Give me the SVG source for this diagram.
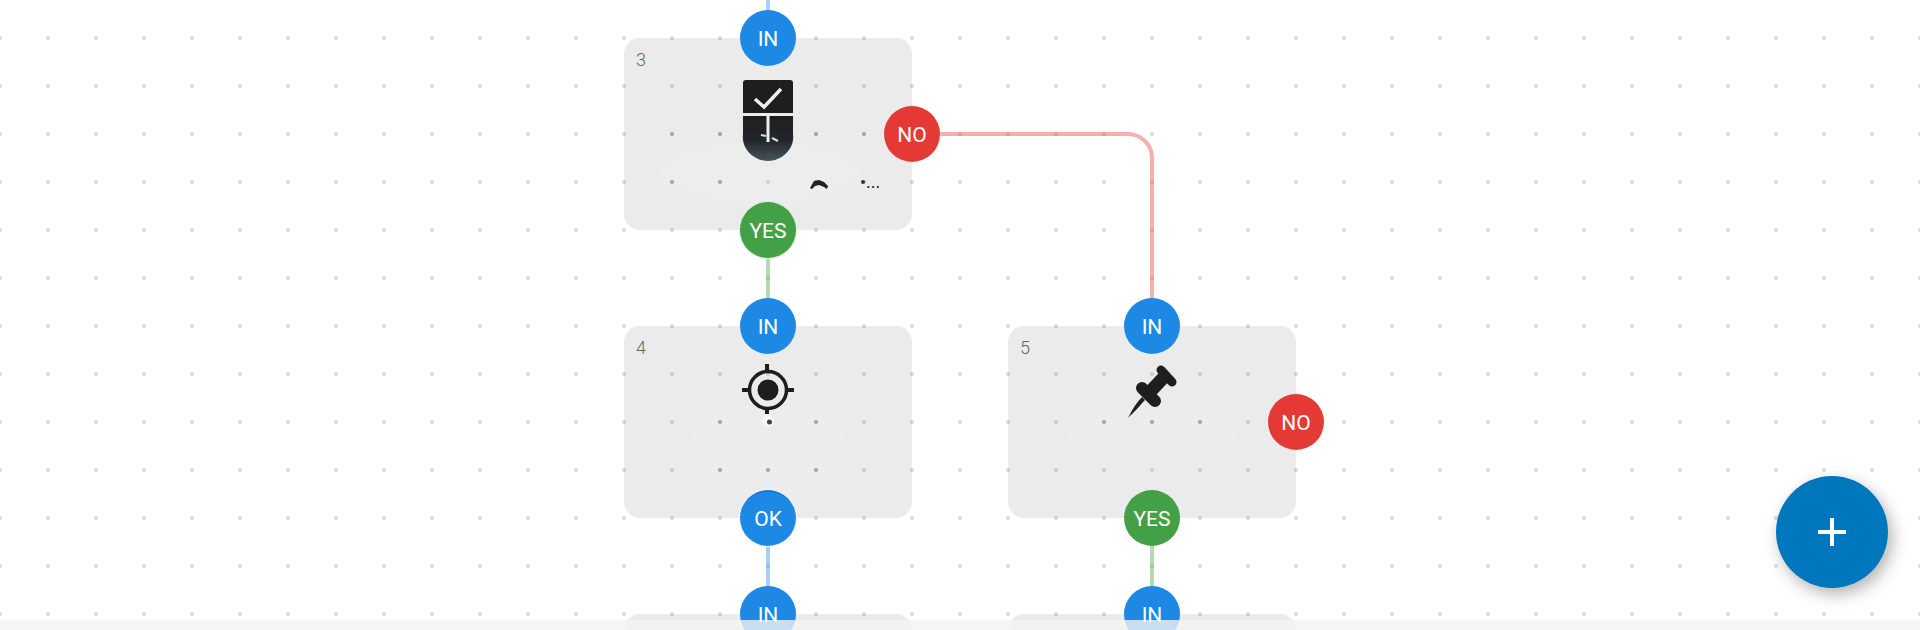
<svg xmlns="http://www.w3.org/2000/svg" width="1920" height="630" viewBox="0 0 1920 630">
  <style>
    .card { fill: #000; fill-opacity: .08; }
    .num { font: 300 18px Roboto, "Liberation Sans", sans-serif; fill: #666; }
    .lbl { font: 400 21px Roboto, "Liberation Sans", sans-serif; fill: #fff; text-anchor: middle; }
    .in, .ok { fill: #1e88e5; }
    .yes { fill: #43a047; }
    .no { fill: #e53935; }
    .wire { fill: none; stroke-width: 4; stroke-opacity: .4; }
    .ink { fill: #1e1e1e; }
    .inkline { stroke: #1e1e1e; fill: none; }
    .mark { fill: #a8a8a8; }
  </style>
  <defs>
    <pattern id="dots" x="-24" y="14" width="48" height="48" patternUnits="userSpaceOnUse">
      <circle cx="24" cy="24" r="2" fill="#dcdcdc"/>
    </pattern>
    <filter id="soft" x="-30%" y="-30%" width="160%" height="160%"><feGaussianBlur stdDeviation="6"/></filter>
    <filter id="soft1" x="-50%" y="-50%" width="200%" height="200%"><feGaussianBlur stdDeviation=".7"/></filter>
    <filter id="shadow" x="-30%" y="-30%" width="160%" height="160%">
      <feDropShadow dx="4" dy="6" stdDeviation="8" flood-color="#000" flood-opacity=".3"/>
    </filter>
    <linearGradient id="drip" x1="0" y1="0" x2="0" y2="1">
      <stop offset="0" stop-color="#1e1e1e"/>
      <stop offset=".55" stop-color="#24282b"/>
      <stop offset="1" stop-color="#44545e"/>
    </linearGradient>
    <linearGradient id="tail" x1="0" y1="0" x2="0" y2="1">
      <stop offset="0" stop-color="#7f919d"/>
      <stop offset="1" stop-color="#d0d5d8"/>
    </linearGradient>
  </defs>

  <rect width="1920" height="630" fill="#fff"/>
  <rect width="1920" height="630" fill="url(#dots)"/>

  <g id="connectors">
    <path class="wire" stroke="#1e88e5" d="M768 0V10"/>
    <path class="wire" stroke="#43a047" d="M768 258V298"/>
    <path class="wire" stroke="#1e88e5" d="M768 546V586"/>
    <path class="wire" stroke="#43a047" d="M1152 546V586"/>
    <path class="wire" stroke="#e53935" d="M940 134H1128A24 24 0 0 1 1152 158V298"/>
  </g>

  <g id="node-3">
    <rect class="card" x="624" y="38" width="288" height="192" rx="16"/>
    <ellipse cx="760" cy="172" rx="105" ry="36" fill="#fff" fill-opacity=".09" filter="url(#soft)"/>
    <path d="M680 134H860" stroke="#fff" stroke-opacity=".2" fill="none"/>
    <circle class="mark" cx="672" cy="134" r="2"/><circle class="mark" cx="720" cy="134" r="2"/>
    <circle class="mark" cx="816" cy="134" r="2"/><circle class="mark" cx="864" cy="134" r="2"/>
    <circle class="mark" cx="672" cy="182" r="2"/><circle class="mark" cx="720" cy="182" r="2"/>
    <text class="num" x="636" y="66">3</text>
    <path d="M768 160V194" stroke="url(#tail)" stroke-width="3" fill="none" filter="url(#soft1)"/>
    <path d="M743 83a3 3 0 0 1 3-3h44a3 3 0 0 1 3 3v30h-50z" class="ink"/>
    <path d="M755 99L764 107L781 89" fill="none" stroke="#eee" stroke-width="3.500"/>
    <path d="M743 116h50v18c2 15-11 27-25 27s-27-12-25-27z" fill="url(#drip)" filter="url(#soft1)"/>
    <path d="M768 116V142" stroke="#eee" stroke-width="3" fill="none"/>
    <path d="M761 135l5 1M772 138l6 3" stroke="#ddd" stroke-width="2" fill="none" filter="url(#soft1)"/>
    <path d="M810 188l4-7 5-1 5 2 4 4-1 3-3-2-5-2-4 1-3 3z" fill="#222" filter="url(#soft1)"/>
    <circle cx="863" cy="182" r="2" fill="#333"/>
    <text x="866" y="188" font-family="Roboto, 'Liberation Sans', sans-serif" font-size="18" fill="#222">...</text>
    <circle class="in" cx="768" cy="38" r="28"/>
    <text class="lbl" x="768" y="46">IN</text>
    <circle cx="768" cy="230" r="29" fill="#dcecd9"/>
    <circle class="yes" cx="768" cy="230" r="28"/>
    <text class="lbl" x="768" y="238">YES</text>
    <circle class="no" cx="912" cy="134" r="28"/>
    <text class="lbl" x="912" y="142">NO</text>
  </g>

  <g id="node-4">
    <rect class="card" x="624" y="326" width="288" height="192" rx="16"/>
    <ellipse cx="768" cy="450" rx="80" ry="42" fill="#fff" fill-opacity=".07" filter="url(#soft)"/>
    <circle cx="768" cy="421" r="6" fill="#fff" fill-opacity=".6" filter="url(#soft1)"/>
    <circle class="mark" cx="720" cy="422" r="2"/><circle class="mark" cx="816" cy="422" r="2"/>
    <circle class="mark" cx="720" cy="470" r="2"/><circle class="mark" cx="768" cy="470" r="2"/><circle class="mark" cx="816" cy="470" r="2"/>
    <circle cx="769.500" cy="422" r="2.500" fill="#444"/>
    <text class="num" x="636" y="354">4</text>
    <circle class="inkline" cx="768" cy="390" r="18.500" stroke-width="3.500"/>
    <circle class="ink" cx="768" cy="390" r="10.500"/>
    <path class="inkline" stroke-width="4" d="M742 390h7M787 390h7M767 364v7M767 408v6"/>
    <circle cx="768" cy="518" r="29" fill="#f6f6f6" filter="url(#soft1)"/>
    <circle class="ok" cx="768" cy="518" r="28"/>
    <path d="M746 501a28 28 0 0 1 44 0a32 32 0 0 0-44 0z" fill="#1565c0" fill-opacity=".45"/>
    <text class="lbl" x="768" y="526">OK</text>
    <circle class="in" cx="768" cy="326" r="28"/>
    <text class="lbl" x="768" y="334">IN</text>
  </g>

  <g id="node-5">
    <rect class="card" x="1008" y="326" width="288" height="192" rx="16"/>
    <ellipse cx="1152" cy="436" rx="85" ry="30" fill="#fff" fill-opacity=".07" filter="url(#soft)"/>
    <circle class="mark" cx="1104" cy="422" r="2"/><circle class="mark" cx="1152" cy="422" r="2"/><circle class="mark" cx="1200" cy="422" r="2"/>
    <text class="num" x="1020" y="354">5</text>
    <path class="inkline" stroke-width="9" stroke-linecap="round" d="M1161 370L1172 382"/>
    <path class="inkline" stroke-width="13" d="M1165 376L1148 394"/>
    <path class="inkline" stroke-width="12" stroke-linecap="round" d="M1142 388L1155 401"/>
    <path class="ink" d="M1142 397L1145 400C1138 408 1133 413 1128 418C1132 410 1136 403 1142 397Z"/>
    <circle class="in" cx="1152" cy="326" r="28"/>
    <text class="lbl" x="1152" y="334">IN</text>
    <circle class="yes" cx="1152" cy="518" r="28"/>
    <text class="lbl" x="1152" y="526">YES</text>
    <circle class="no" cx="1296" cy="422" r="28"/>
    <text class="lbl" x="1296" y="430">NO</text>
  </g>

  <g id="node-6">
    <rect class="card" x="624" y="614" width="288" height="192" rx="16"/>
    <circle class="in" cx="768" cy="614" r="28"/>
    <text class="lbl" x="768" y="622">IN</text>
  </g>

  <g id="node-7">
    <rect class="card" x="1008" y="614" width="288" height="192" rx="16"/>
    <circle class="in" cx="1152" cy="614" r="28"/>
    <text class="lbl" x="1152" y="622">IN</text>
  </g>

  <rect id="footer" x="0" y="620" width="1920" height="10" fill="#f4f4f4" fill-opacity=".8"/>

  <g id="add-button">
    <circle cx="1832" cy="532" r="56" fill="#0277bd" filter="url(#shadow)"/>
    <path d="M1818 532H1846M1832 518V546" stroke="#fff" stroke-width="4" fill="none"/>
  </g>
</svg>
